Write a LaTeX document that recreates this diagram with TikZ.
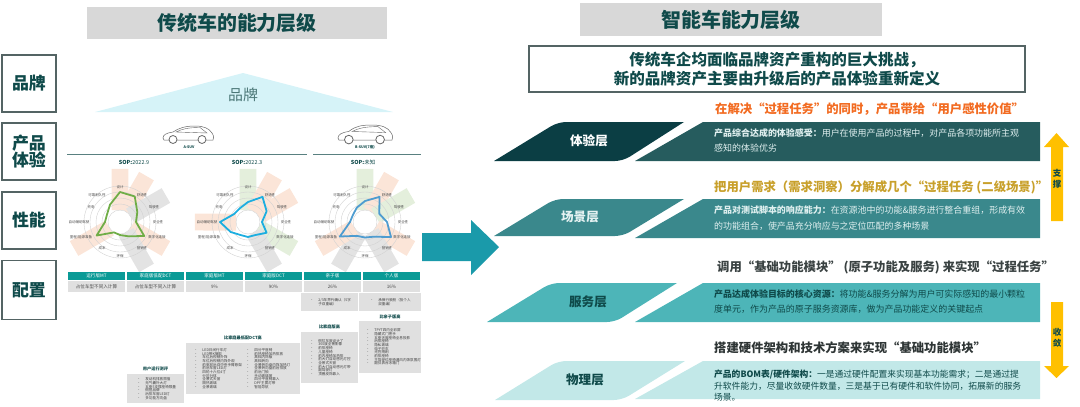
\documentclass[tikz,border=0pt]{standalone}
\usepackage{fontspec}
\setmainfont{Noto Sans CJK SC}
\usetikzlibrary{positioning}
\definecolor{titledark}{RGB}{15, 74, 74}
\definecolor{titlegray}{RGB}{216, 216, 216}
\definecolor{tagborder}{RGB}{84, 100, 100}
\definecolor{roofblue}{RGB}{214, 243, 248}
\definecolor{layerone}{RGB}{11, 62, 68}
\definecolor{bodyone}{RGB}{38, 92, 94}
\definecolor{layertwo}{RGB}{58, 136, 140}
\definecolor{layerthree}{RGB}{77, 181, 184}
\definecolor{layerfour}{RGB}{194, 232, 232}
\definecolor{arrowteal}{RGB}{26, 154, 170}
\definecolor{arrowyellow}{RGB}{255, 192, 0}
\definecolor{headorange}{RGB}{242, 107, 33}
\definecolor{headgold}{RGB}{200, 160, 43}
\definecolor{headgray}{RGB}{58, 66, 66}
\definecolor{tablehead}{RGB}{10, 154, 150}
\definecolor{tablegray}{RGB}{224, 224, 224}
\definecolor{barpeach}{RGB}{251, 229, 216}
\definecolor{bargray}{RGB}{227, 227, 227}
\definecolor{bargreen}{RGB}{228, 239, 220}
\definecolor{radargreen}{RGB}{112, 173, 71}
\definecolor{radarblue}{RGB}{28, 174, 224}
\definecolor{radarmid}{RGB}{78, 156, 208}
\newcommand{\fsize}[1]{\fontsize{#1}{#1}\selectfont}
\newcommand{\li}{•\hspace{1.3em}}

% one radar: centre, bars (angle/colour), outline path, line colour
\newcommand{\radarchart}[4]{
    \begin{scope}[shift={(#1)}]
        \foreach \ang/\col in {#2}
            \fill[\col] (\ang-35.3:14.7) -- (\ang+35.3:14.7) -- (\ang+9.1:53.7) -- (\ang-9.1:53.7) -- cycle;
        \fill[white] (0,0) circle (8);
        \foreach \rad in {12,18,24,30,36}
            \draw[gray!35, line width=0.4] (0,0) circle (\rad);
        \foreach \lbl/\lx/\ly in {设计/0/-35, 舒适性/22/-27, 驾驶性/34/-15, 安全性/38/0, 数字化连接/37/15, 营销性/22/26, 环保/0/34, 成本/-18/26, {里程/能源准备}/-39/15, 自动辅助驾驶/-41/0, 充电/-29/-15, 可靠耐久性/-23/-27}
            \node[radarlabel] at (\lx,\ly) {\lbl};
        \draw[#4, line width=1.8, line join=round] #3;
    \end{scope}
}

% car outline, scaled from a 51 wide box
\newcommand{\carshape}[3]{
    \begin{scope}[shift={(#1)}, xscale=#2, yscale=#2]
        \draw[gray!80!black, line width=0.5, fill=white] (0,12) .. controls (0,9) and (3,7) .. (10,6) .. controls (16,#3) and (22,0) .. (32,0) .. controls (40,0) and (46,2) .. (49,7) .. controls (51,10) and (51,12) .. (50,14) -- (1,14) -- cycle;
        \draw[gray!80!black, line width=0.4] (13,6) .. controls (19,3) and (25,1.5) .. (37,1.5) -- (44,7) -- cycle;
        \draw[gray!80!black, line width=0.8, fill=white] (10,13.5) circle (4) (39,13.5) circle (4);
    \end{scope}
}

\tikzset{
    titlebox/.style={fill=titlegray, text=titledark, font=\fsize{20}\bfseries, inner sep=0, minimum height=33},
    lefttag/.style={draw=tagborder, line width=1.5, text=titledark, font=\fsize{17}\bfseries, align=center, inner sep=0, minimum width=54, minimum height=57},
    radarlabel/.style={text=black!70, font=\fsize{3.5}, inner sep=0},
    soplabel/.style={text=titledark, font=\fsize{5.5}, inner sep=0},
    carlabel/.style={text=titledark, font=\fsize{3.6}\bfseries, inner sep=0},
    headcell/.style={fill=tablehead, text=white, font=\fsize{4.6}, inner sep=0, minimum width=58, minimum height=8.5},
    datacell/.style={fill=tablegray, text=black!70, font=\fsize{4.6}, inner sep=0, minimum width=58, minimum height=11},
    listbox/.style={fill=tablegray, inner sep=0},
    listtext/.style={text=black!75, font=\fontsize{3.6}{3.7}\selectfont, align=left, inner sep=0},
    listtitle/.style={text=titledark, font=\fsize{4.2}\bfseries, inner sep=0},
    headline/.style={font=\fsize{12.4}\bfseries, inner sep=0, anchor=west},
    layertag/.style={font=\fsize{12.6}\bfseries, inner sep=0},
    bodytext/.style={font=\fontsize{9}{16}\selectfont, align=left, inner sep=0, anchor=north west},
    vertlabel/.style={text=titledark, font=\fsize{8.5}\bfseries, inner sep=0}
}

\begin{document}
\begin{tikzpicture}[x=1bp, y=-1bp]
    \useasboundingbox (0,0) rectangle (1080,406);

    % left side
    \node[titlebox, minimum width=302] (titleold) at (237,23) {传统车的能力层级};
    \node[lefttag] (tagbrand) at (29,83.5) {品牌};
    \node[lefttag] (tagproduct) at (29,151.5) {\fontsize{17}{21}\selectfont 产品\\体验};
    \node[lefttag] (tagperf) at (29,220.5) {性能};
    \node[lefttag, minimum height=59] (tagconfig) at (29,290) {配置};

    \fill[roofblue] (243,73) -- (393,112) -- (95,112) -- cycle;
    \node[text=titledark!75, font=\fsize{15}, inner sep=0] (roofbrand) at (243,95) {品牌};

    \carshape{163,126}{1}{2}
    \carshape{338,125}{1.08}{1}
    \node[carlabel] (cara) at (189,147) {A-SUV};
    \node[carlabel] (carb) at (365,147) {B-SUV(7座)};
    \draw[gray!70!teal, line width=1] (67,154) -- (307,154);
    \draw[gray!70!teal, line width=1] (313,154) -- (421,154);
    \node[soplabel] (sopa) at (134,162) {\textbf{SOP:}2022.9};
    \node[soplabel] (sopb) at (247,162) {\textbf{SOP:}2022.3};
    \node[soplabel] (sopc) at (363,162) {\textbf{SOP:}未知};

    \radarchart{120,222}{-90/barpeach, -60/barpeach, -30/bargray, 30/barpeach, 60/bargray, 150/barpeach}{(-90:30) -- (-60:29.5) -- (-30:20) -- (0:16) -- (30:28) -- (60:16.5) -- (90:13) -- (120:12) -- (150:27) -- (180:15) -- (210:15) -- (240:20) -- cycle}{radargreen}
    \radarchart{248,222}{-90/bargreen, -60/barpeach, -30/barpeach, 30/bargreen, 60/bargray, 180/barpeach}{(-90:20) -- (-60:29) -- (-30:21.5) -- (0:14) -- (30:21.5) -- (60:15) -- (90:15) -- (120:15) -- (150:20) -- (180:28) -- (210:16) -- (240:16) -- cycle}{radarblue}
    \radarchart{365,222}{-90/bargreen, -60/barpeach, -30/bargreen, 30/barpeach, 60/bargray, 120/bargray, 150/barpeach}{(-90:21) -- (-60:29) -- (-30:16.5) -- (0:22) -- (30:30) -- (60:17) -- (90:15.5) -- (120:16) -- (150:29) -- (180:15) -- (210:14) -- (240:16.5) -- cycle}{radarmid}

    \foreach \i/\hd/\val in {0/运行版MT/占位车型不同入计算, 1/家庭版低配DCT/占位车型不同入计算, 2/家庭版MT/9\%, 3/家庭版DCT/90\%, 4/亲子版/26\%, 5/个人版/16\%} {
        \node[headcell] (head\i) at (96.5+59*\i,276) {\hd};
        \node[datacell, below=0.5bp of head\i] (data\i) {\val};
    }

    \node[listbox, minimum width=57, minimum height=18] (boxe) at (329.5,302) {};
    \node[listbox, minimum width=62, minimum height=18] (boxf) at (390,302) {};
    \node[listtext, right=9bp of boxe.west] {\li 2/3年界代确认（5字\\\phantom{\li}子双重编）};
    \node[listtext, right=11bp of boxf.west] {\li 承保行驶舱（投个人\\\phantom{\li}双重编）};

    \node[listbox, minimum width=57, minimum height=29] (lista) at (155.5,388.5) {};
    \node[listtitle, above=3bp of lista] {用户运行测评};
    \node[listtext, right=10bp of lista.west] {\li 发动机排放限值\\\li 无气囊外大灯\\\li 五座5支撑座椅限量\\\li 侧扭品牌\\\li 后排车窗LED灯\\\li 多功能方向盘};

    \node[listbox, minimum width=114, minimum height=51] (listb) at (243,368.5) {};
    \node[listtitle, above=3bp of listb] {比家庭最低配DCT高};
    \node[listtext, right=8bp of listb.west] {\li LED日间行车灯\\\li LED带K摘取\\\li 车位后视镜外饰\\\li 车位后视镜内饰外观\\\li 前驱前后双中央手臂悬架\\\li 前后车窗LED灯\\\li 四轮十六位4寸\\\li 分区分体\\\li 全景式天窗\\\li 隔热玻璃\\\li 全景玻璃};
    \node[listtext, right=60bp of listb.west] {\li 四分平座椅\\\li 前热座椅加热排放\\\li 高档内饰版\\\li 高档转向\\\li 全景转向盘内饰加热灯\\\li 全景转向盘前后排放\\\li 前后门锁\\\li 手动玻璃窗\\\li 四分平座椅靠入\\\li DPF主雾灯带\\\li 智能导航};

    \node[listbox, minimum width=57, minimum height=51] (liste) at (329.5,357.5) {};
    \node[listtitle, above=3bp of liste] {比家庭版高};
    \node[listtext, right=9bp of liste.west] {\li 侧拉车窗设计了\\\li 360度全景影像\\\li 前排座椅\\\li 儿童座椅\\\li 前内座椅加热排\\\li 前大灯自动感光灯控\\\li 全景式天窗\\\li 前大灯自动感光灯带\\\li 副驾驶灯\\\li 顶棚皮饰靠入};

    \node[listbox, minimum width=62, minimum height=52] (listf) at (390,347) {};
    \node[listtitle, above=2bp of listf] {比亲子版高};
    \node[listtext, right=7bp of listf.west] {\li TPYT四内全彩屏\\\li 隐藏式门把手\\\li 五座天窗座椅全息投影\\\li 后排座椅\\\li 隐私玻璃\\\li 电子驻车\\\li 光控雨刷\\\li 前排座椅\\\li 主驾驶位座椅通风内饰氛围灯\\\li 副仪表台冰箱门};

    \fill[arrowteal] (422,233) -- (471,233) -- (471,220) -- (499,247) -- (471,275) -- (471,261) -- (422,261) -- cycle;

    % right side
    \node[titlebox, minimum width=304] (titlenew) at (731,19.5) {智能车能力层级};
    \node[draw=tagborder, line width=1.3, minimum width=498, minimum height=46, inner sep=0, text=titledark, font=\fontsize{15.6}{18.4}\selectfont\bfseries, align=center] (challenge) at (777,69) {传统车企均面临品牌资产重构的巨大挑战，\\新的品牌资产主要由升级后的产品体验重新定义};

    \node[headline, text=headorange] (heada) at (715,109) {在解决“过程任务”的同时，产品带给“用户感性价值”};
    \node[headline, text=headgold] (headb) at (714,187) {把用户需求（需求洞察）分解成几个“过程任务 (二级场景)”};
    \node[headline, text=headgray] (headc) at (717,267) {调用“基础功能模块” (原子功能及服务) 来实现“过程任务”};
    \node[headline, text=headgray!80!black] (headd) at (714,348) {搭建硬件架构和技术方案来实现“基础功能模块”};

    % layers, only the sharp ends are rounded
    \fill[layerone] (600,122) -- (684,122) [rounded corners=8] -- (623,161) [sharp corners] -- (494,161) [rounded corners=8] -- (558,122) [sharp corners] -- cycle;
    \fill[layertwo] (600,199) -- (684,199) [rounded corners=8] -- (623,236) [sharp corners] -- (494,236) [rounded corners=8] -- (555,199) [sharp corners] -- cycle;
    \fill[layerthree] (600,283) -- (677,283) [rounded corners=8] -- (615,322) [sharp corners] -- (487,322) [rounded corners=8] -- (551,283) [sharp corners] -- cycle;
    \fill[layerfour] (600,361) -- (685,361) [rounded corners=8] -- (622,400) [sharp corners] -- (495,400) [rounded corners=8] -- (558,361) [sharp corners] -- cycle;
    \fill[bodyone] (703,122) -- (1040,122) -- (1040,161) -- (635,161) -- cycle;
    \fill[layertwo] (703,199) -- (1040,199) -- (1040,238) -- (635,238) -- cycle;
    \fill[layerthree] (703,283) -- (1040,283) -- (1040,322) -- (635,322) -- cycle;
    \fill[layerfour] (703,361) -- (1040,361) -- (1040,399) -- (635,399) -- cycle;

    \node[layertag, text=white] (tagexp) at (589,141) {体验层};
    \node[layertag, text=white!90!teal] (tagscene) at (580,217) {场景层};
    \node[layertag, text=titledark] (tagservice) at (588,302) {服务层};
    \node[layertag, text=titledark] (tagphys) at (585,380) {物理层};

    \node[bodytext, text=white!88!teal] (bodyexp) at (714,128) {\textbf{产品综合达成的体验感受：}用户在使用产品的过程中，对产品各项功能所主观\\感知的体验优劣};
    \node[bodytext, text=white!88!teal] (bodyscene) at (714,205.5) {\textbf{产品对测试脚本的响应能力：}在资源池中的功能\&服务进行整合重组，形成有效\\的功能组合，使产品充分响应与之定位匹配的多种场景};
    \node[bodytext, text=titledark, font=\fontsize{9}{15.5}\selectfont] (bodyservice) at (714,289) {\textbf{产品达成体验目标的核心资源：}将功能\&服务分解为用户可实际感知的最小颗粒\\度单元，作为产品的原子服务资源库，做为产品功能定义的关键起点};
    \node[bodytext, text=titledark, font=\fontsize{8.8}{11.5}\selectfont] (bodyphys) at (714,370) {\textbf{产品的BOM表/硬件架构：}一是通过硬件配置来实现基本功能需求；二是通过提\\升软件能力，尽量收敛硬件数量，三是基于已有硬件和软件协同，拓展新的服务\\场景。};

    \fill[arrowyellow] (1051,221) -- (1051,147) -- (1044,147) -- (1056.5,133) -- (1069,147) -- (1063,147) -- (1063,221) -- cycle;
    \fill[arrowyellow] (1051,302) -- (1051,366) -- (1044,366) -- (1056.5,378) -- (1069,366) -- (1063,366) -- (1063,302) -- cycle;
    \node[vertlabel] (propa) at (1057,173) {支};
    \node[vertlabel, below=3bp of propa] (propb) {撑};
    \node[vertlabel] (convb) at (1057,332) {收};
    \node[vertlabel, below=3bp of convb] (conva) {敛};
\end{tikzpicture}
\end{document}
